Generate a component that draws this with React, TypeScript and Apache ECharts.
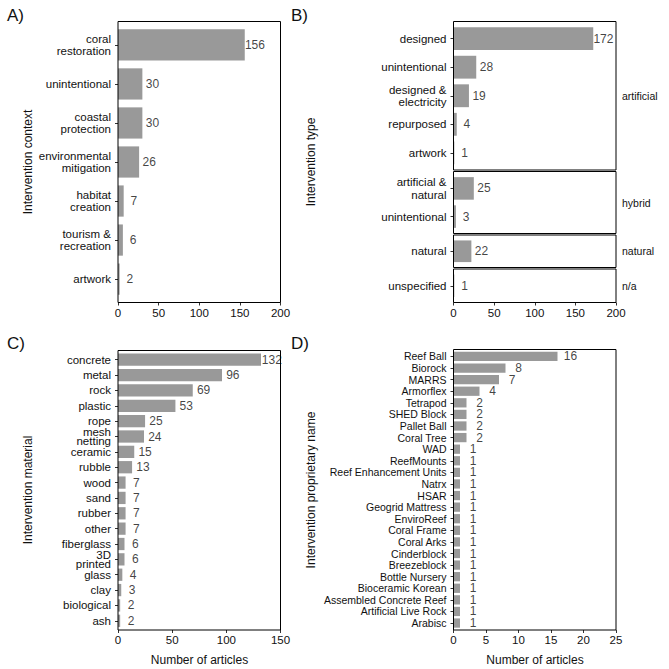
import React, { useEffect, useRef } from 'react';
import * as echarts from 'echarts';

const FONT = '"Liberation Sans", Arial, Helvetica, sans-serif';
const TXT = '#111111';
const BAR = '#999999';

// Panel A
const A_CATS = ['coral\nrestoration', 'unintentional', 'coastal\nprotection', 'environmental\nmitigation', 'habitat\ncreation', 'tourism &\nrecreation', 'artwork'];
const A_VALS = [156, 30, 30, 26, 7, 6, 2];
const AB_TICKS = [0, 50, 100, 150, 200];

// Panel B (faceted)
const B_FACETS = ['artificial', 'hybrid', 'natural', 'n/a'];
const B_ART_CATS = ['designed', 'unintentional', 'designed &\nelectricity', 'repurposed', 'artwork'];
const B_ART_VALS = [172, 28, 19, 4, 1];
const B_HYB_CATS = ['artificial &\nnatural', 'unintentional'];
const B_HYB_VALS = [25, 3];
const B_NAT_CATS = ['natural'];
const B_NAT_VALS = [22];
const B_NA_CATS = ['unspecified'];
const B_NA_VALS = [1];

// Panel C
const C_CATS = ['concrete', 'metal', 'rock', 'plastic', 'rope', 'mesh\nnetting', 'ceramic', 'rubble', 'wood', 'sand', 'rubber', 'other', 'fiberglass', '3D\nprinted', 'glass', 'clay', 'biological', 'ash'];
const C_VALS = [132, 96, 69, 53, 25, 24, 15, 13, 7, 7, 7, 7, 6, 6, 4, 3, 2, 2];
const C_TICKS = [0, 50, 100, 150];

// Panel D
const D_CATS = ['Reef Ball', 'Biorock', 'MARRS', 'Armorflex', 'Tetrapod', 'SHED Block', 'Pallet Ball', 'Coral Tree', 'WAD', 'ReefMounts', 'Reef Enhancement Units', 'Natrx', 'HSAR', 'Geogrid Mattress', 'EnviroReef', 'Coral Frame', 'Coral Arks', 'Cinderblock', 'Breezeblock', 'Bottle Nursery', 'Bioceramic Korean', 'Assembled Concrete Reef', 'Artificial Live Rock', 'Arabisc'];
const D_VALS = [16, 8, 7, 4, 2, 2, 2, 2, 1, 1, 1, 1, 1, 1, 1, 1, 1, 1, 1, 1, 1, 1, 1, 1];
const D_TICKS = [0, 5, 10, 15, 20, 25];

type Frame = { x: number; y: number; w: number; h: number };

function buildOption() {
  const grids: any[] = [];
  const xAxes: any[] = [];
  const yAxes: any[] = [];
  const series: any[] = [];
  const graphics: any[] = [];

  const addPanel = (p: {
    frame: Frame; cats: string[]; vals: number[]; ticks: number[]; showX: boolean;
    labelOffset: number; catFont: number; catLH: number; valFont: number; valLH: number;
  }) => {
    const { frame, cats, vals, ticks } = p;
    const n = cats.length;
    const u = frame.h / (n + 0.2);
    const inset = 0.1 * u;
    const gi = grids.length;
    grids.push({ left: frame.x, top: frame.y + inset, width: frame.w, height: n * u, outerBoundsMode: 'none', show: false });
    xAxes.push({
      type: 'value', gridIndex: gi, min: ticks[0], max: ticks[ticks.length - 1], interval: ticks[1] - ticks[0],
      offset: inset,
      axisLine: { show: false },
      axisTick: { show: p.showX, length: 3, lineStyle: { color: '#333', width: 1 } },
      axisLabel: { show: p.showX, margin: 4, fontSize: 11.5, color: TXT, fontFamily: FONT },
      splitLine: { show: false },
    });
    yAxes.push({
      type: 'category', gridIndex: gi, data: cats, inverse: true,
      axisLine: { show: false },
      axisTick: { show: true, alignWithLabel: true, length: 3, lineStyle: { color: '#333', width: 1 } },
      axisLabel: { margin: 7, fontSize: p.catFont, lineHeight: p.catLH, color: TXT, fontFamily: FONT, interval: 0 },
    });
    series.push({
      type: 'bar', xAxisIndex: gi, yAxisIndex: gi, data: vals, barCategoryGap: '20%',
      itemStyle: { color: BAR }, silent: true,
    });
    series.push({
      type: 'scatter', xAxisIndex: gi, yAxisIndex: gi,
      data: vals.map((v, i) => [v + p.labelOffset, i]),
      symbolSize: 1, itemStyle: { color: 'transparent' }, silent: true,
      label: {
        show: true, position: 'inside', formatter: (q: any) => String(vals[q.dataIndex]),
        fontSize: p.valFont, lineHeight: p.valLH, color: TXT, fontFamily: FONT,
      },
    });
    graphics.push({
      type: 'rect', z: 100, silent: true,
      shape: { x: frame.x, y: frame.y, width: frame.w, height: frame.h },
      style: { fill: 'none', stroke: '#000', lineWidth: 1 },
    });
  };

  // Panel A
  addPanel({ frame: { x: 118, y: 21.5, w: 162.5, h: 281 }, cats: A_CATS, vals: A_VALS, ticks: AB_TICKS, showX: true, labelOffset: 12.5, catFont: 11.5, catLH: 12.5, valFont: 12, valLH: 14 });

  // Panel B facets
  const bFrames: Frame[] = [
    { x: 453.5, y: 21.5, w: 162.5, h: 148.5 },
    { x: 453.5, y: 171.5, w: 162.5, h: 62 },
    { x: 453.5, y: 235, w: 162.5, h: 32.5 },
    { x: 453.5, y: 269, w: 162.5, h: 33.5 },
  ];
  const bCats = [B_ART_CATS, B_HYB_CATS, B_NAT_CATS, B_NA_CATS];
  const bVals = [B_ART_VALS, B_HYB_VALS, B_NAT_VALS, B_NA_VALS];
  bFrames.forEach((f, i) => {
    addPanel({ frame: f, cats: bCats[i], vals: bVals[i], ticks: AB_TICKS, showX: i === bFrames.length - 1, labelOffset: 12.5, catFont: 11.5, catLH: 12.5, valFont: 12, valLH: 14 });
    graphics.push({
      type: 'text', silent: true, x: 622, y: f.y + f.h / 2,
      style: { text: B_FACETS[i], font: `10.5px ${FONT}`, fill: TXT, align: 'left', verticalAlign: 'middle' },
    });
  });

  // Panel C
  addPanel({ frame: { x: 118, y: 350.5, w: 162.5, h: 279.5 }, cats: C_CATS, vals: C_VALS, ticks: C_TICKS, showX: true, labelOffset: 10, catFont: 11.5, catLH: 8.5, valFont: 12, valLH: 13 });

  // Panel D
  addPanel({ frame: { x: 453.5, y: 349.5, w: 162.5, h: 280.5 }, cats: D_CATS, vals: D_VALS, ticks: D_TICKS, showX: true, labelOffset: 2, catFont: 10.5, catLH: 11, valFont: 12, valLH: 11 });

  const letter = (t: string, x: number, y: number) => ({
    type: 'text', silent: true, x, y,
    style: { text: t, font: `17px ${FONT}`, fill: TXT, align: 'left', verticalAlign: 'middle' },
  });
  graphics.push(letter('A)', 7, 15), letter('B)', 291, 15), letter('C)', 7, 343), letter('D)', 291, 343));

  const ytitle = (t: string, x: number, y: number) => ({
    type: 'text', silent: true, x, y, rotation: Math.PI / 2,
    style: { text: t, font: `12px ${FONT}`, fill: TXT, align: 'center', verticalAlign: 'middle' },
  });
  graphics.push(
    ytitle('Intervention context', 28, 162),
    ytitle('Intervention type', 311, 162),
    ytitle('Intervention material', 28, 490),
    ytitle('Intervention proprietary name', 311, 490),
  );
  const xtitle = (t: string, x: number, y: number) => ({
    type: 'text', silent: true, x, y,
    style: { text: t, font: `12px ${FONT}`, fill: TXT, align: 'center', verticalAlign: 'middle' },
  });
  graphics.push(xtitle('Number of articles', 199.5, 660), xtitle('Number of articles', 535, 660));

  return {
    animation: false,
    backgroundColor: '#ffffff',
    textStyle: { fontFamily: FONT },
    grid: grids,
    xAxis: xAxes,
    yAxis: yAxes,
    series,
    graphic: graphics,
  };
}

export default function App() {
  const ref = useRef<HTMLDivElement>(null);
  useEffect(() => {
    if (!ref.current) return;
    const chart = echarts.init(ref.current, undefined, { renderer: 'svg' });
    chart.setOption(buildOption() as any);
    return () => chart.dispose();
  }, []);
  return <div ref={ref} style={{ position: 'fixed', left: 0, top: 0, width: 669, height: 669, background: '#fff' }} />;
}
